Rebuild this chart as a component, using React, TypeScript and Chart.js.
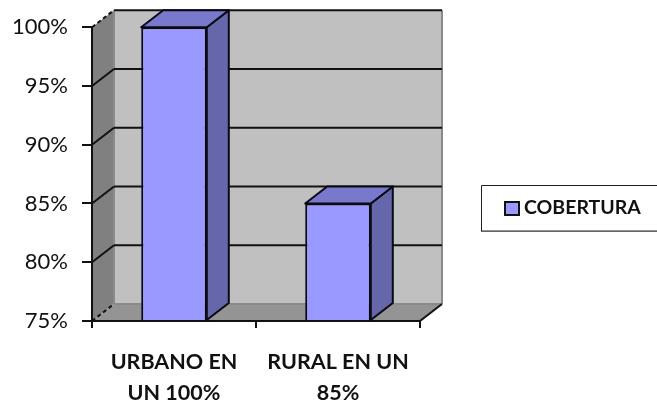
import React, { useEffect, useRef } from "react";
import { Chart, registerables } from "chart.js";

Chart.register(...registerables);

const categories = [["URBANO EN", "UN 100%"], ["RURAL EN UN", "85%"]];
const seriesName = "COBERTURA";
const coverage = [100, 85];
const axisMin = 75;
const axisMax = 100;
const axisStep = 5;

const DX = 22;
const DY = 17;
const FONT = "Lato, Carlito, sans-serif";

function poly(ctx: CanvasRenderingContext2D, pts: number[][], fill: string | null, stroke?: string, lw = 2) {
  ctx.beginPath();
  pts.forEach(([x, y], i) => (i ? ctx.lineTo(x, y) : ctx.moveTo(x, y)));
  ctx.closePath();
  if (fill) {
    ctx.fillStyle = fill;
    ctx.fill();
  }
  if (stroke) {
    ctx.strokeStyle = stroke;
    ctx.lineWidth = lw;
    ctx.lineJoin = "round";
    ctx.stroke();
  }
}

const walls3d = {
  id: "walls3d",
  beforeDraw(chart: any) {
    const { ctx, chartArea: a, scales } = chart;
    const { left: l, right: r, top: t, bottom: b } = a;
    ctx.save();
    poly(ctx, [[l + DX, t - DY], [r + DX, t - DY], [r + DX, b - DY], [l + DX, b - DY]], "#c0c0c0");
    poly(ctx, [[l, t], [l + DX, t - DY], [l + DX, b - DY], [l, b]], "#808080");
    poly(ctx, [[l, b], [r, b], [r + DX, b - DY], [l + DX, b - DY]], "#949494");
    ctx.strokeStyle = "#8a8a8a";
    ctx.lineWidth = 2;
    ctx.beginPath();
    ctx.moveTo(r + DX, t - DY);
    ctx.lineTo(r + DX, b - DY);
    ctx.moveTo(l + DX, t - DY);
    ctx.lineTo(l + DX, b - DY);
    ctx.moveTo(l + DX, b - DY);
    ctx.lineTo(r + DX, b - DY);
    ctx.stroke();
    ctx.strokeStyle = "#111";
    ctx.lineWidth = 2;
    for (const tick of scales.y.ticks) {
      const y = scales.y.getPixelForValue(tick.value);
      const isEdge = tick.value === axisMin;
      ctx.setLineDash(isEdge || tick.value === axisMax ? [4, 3] : []);
      ctx.beginPath();
      ctx.moveTo(l, y);
      ctx.lineTo(l + DX, y - DY);
      ctx.stroke();
      ctx.setLineDash([]);
      if (!isEdge) {
        ctx.beginPath();
        ctx.moveTo(l + DX, y - DY);
        ctx.lineTo(r + DX, y - DY);
        ctx.stroke();
      }
    }
    ctx.beginPath();
    ctx.moveTo(r, b);
    ctx.lineTo(r + DX, b - DY);
    ctx.stroke();
    ctx.restore();
  },
  afterDatasetsDraw(chart: any) {
    const { ctx } = chart;
    const meta = chart.getDatasetMeta(0);
    ctx.save();
    meta.data.forEach((bar: any) => {
      const { x, y, base, width } = bar.getProps(["x", "y", "base", "width"], true);
      const L = x - width / 2;
      const R = x + width / 2;
      poly(ctx, [[R, y], [R + DX, y - DY], [R + DX, base - DY], [R, base]], "#6666aa", "#0a0a14");
      poly(ctx, [[L, y], [L + DX, y - DY], [R + DX, y - DY], [R, y]], "#7878cc", "#0a0a14");
    });
    ctx.restore();
  },
};

const legendBox = {
  id: "legendBox",
  afterDraw(chart: any) {
    const { ctx, width } = chart;
    ctx.save();
    ctx.fillStyle = "#fff";
    ctx.fillRect(481, 185, width - 481 + 4, 46);
    ctx.strokeStyle = "#222";
    ctx.lineWidth = 1;
    ctx.beginPath();
    ctx.moveTo(width + 2, 185.5);
    ctx.lineTo(481.5, 185.5);
    ctx.lineTo(481.5, 231);
    ctx.lineTo(width + 2, 231);
    ctx.stroke();
    ctx.strokeStyle = "#666";
    ctx.beginPath();
    ctx.moveTo(481, 231.5);
    ctx.lineTo(width, 231.5);
    ctx.stroke();
    const ds = chart.data.datasets[0];
    ctx.fillStyle = ds.backgroundColor;
    ctx.strokeStyle = "#111";
    ctx.lineWidth = 2;
    ctx.fillRect(505, 202, 14, 13);
    ctx.strokeRect(505, 202, 14, 13);
    ctx.fillStyle = "#111";
    ctx.font = `700 19.5px ${FONT}`;
    ctx.textBaseline = "middle";
    ctx.textAlign = "left";
    ctx.fillText(ds.label, 524, 208);
    ctx.restore();
  },
};

export default function App() {
  const ref = useRef<HTMLCanvasElement>(null);
  useEffect(() => {
    const chart = new Chart(ref.current!, {
      type: "bar",
      data: {
        labels: categories,
        datasets: [
          {
            label: seriesName,
            data: coverage,
            base: axisMin,
            backgroundColor: "#9999ff",
            borderColor: "#0a0a14",
            borderWidth: 2,
            barPercentage: 0.4,
            categoryPercentage: 1,
          },
        ],
      },
      options: {
        responsive: false,
        animation: false,
        layout: { padding: { top: 25, right: 237, left: 0, bottom: 0 } },
        plugins: { legend: { display: false }, tooltip: { enabled: false } },
        scales: {
          x: {
            afterFit: (s: any) => { s.height = 82; },
            border: { display: true, color: "#111", width: 2 },
            grid: { drawOnChartArea: false, color: "#111", lineWidth: 2, tickLength: 7, offset: true },
            ticks: {
              color: "#111",
              font: { family: FONT, size: 21.5, weight: "700", lineHeight: 1.44 },
              padding: 19,
              maxRotation: 0,
              autoSkip: false,
            },
          },
          y: {
            min: axisMin,
            max: axisMax,
            afterFit: (s: any) => { s.width = 92; },
            border: { display: true, color: "#111", width: 2 },
            grid: { drawOnChartArea: false, color: "#111", lineWidth: 2, tickLength: 10 },
            ticks: {
              stepSize: axisStep,
              color: "#111",
              font: { family: FONT, size: 22 },
              padding: 14,
              callback: (v: any) => `${v}%`,
            },
          },
        },
      },
      plugins: [walls3d, legendBox],
    } as any);
    return () => chart.destroy();
  }, []);
  return (
    <canvas
      ref={ref}
      width={657}
      height={403}
      style={{ position: "fixed", left: 0, top: 0, width: 657, height: 403, display: "block", filter: "blur(0.4px)" }}
    />
  );
}
